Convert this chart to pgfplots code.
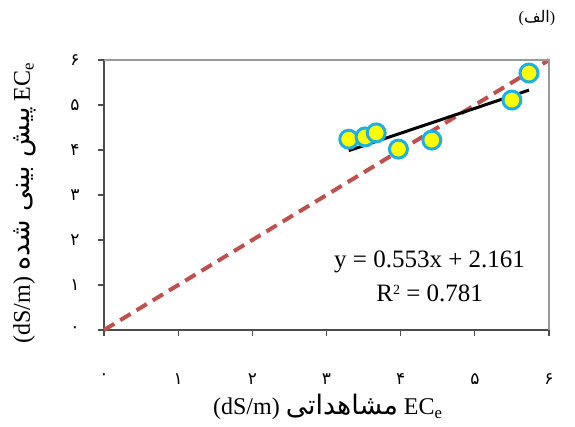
\documentclass[border=0pt]{standalone}
\usepackage{fontspec}
\setmainfont{Liberation Serif}
\newfontfamily\ar[Script=Arabic]{DejaVu Sans}
\newfontfamily\arl[Script=Arabic,Scale=1.12]{DejaVu Sans}
\usepackage{pgfplots}
\pgfplotsset{compat=1.18}
\usetikzlibrary{calc}
\TeXXeTstate=1

\definecolor{ptfill}{RGB}{255,255,0}
\definecolor{ptedge}{RGB}{30,175,230}
\definecolor{oneone}{RGB}{192,80,77}

\begin{document}
\begin{tikzpicture}
\begin{axis}[
    scale only axis,
    width=445pt,
    height=270pt,
    xmin=0, xmax=6,
    ymin=0, ymax=6,
    axis lines*=left,
    axis line style={-, black!70, line width=1.3pt},
    tick align=outside,
    major tick length=6pt,
    tick style={black!70, line width=1.1pt},
    xtick={0,1,2,3,4,5,6},
    ytick={0,1,2,3,4,5,6},
    xticklabels={{\ar ۰},{\ar ۱},{\ar ۲},{\ar ۳},{\ar ۴},{\ar ۵},{\ar ۶}},
    yticklabels={{\ar ۰},{\ar ۱},{\ar ۲},{\ar ۳},{\ar ۴},{\ar ۵},{\ar ۶}},
    ticklabel style={font=\fontsize{17}{20}\selectfont},
    xticklabel style={yshift=-34pt},
    yticklabel style={xshift=-15pt},
    xlabel={(dS/m) {\arl\beginR مشاهداتی\endR}\ EC\textsubscript{e}},
    ylabel={(dS/m) {\arl\beginR پیش بینی شده\endR}\ EC\textsubscript{e}},
    label style={font=\fontsize{24}{28}\selectfont},
    xlabel style={at={(axis description cs:0.503,-0.285)}, anchor=center},
    ylabel style={at={(axis description cs:-0.178,0.47)}, anchor=center, rotate=0},
    clip=false,
]
% observations
\addplot[only marks, mark=*, mark size=9pt,
    mark options={fill=ptfill, draw=ptedge, line width=3pt}] coordinates {
    (3.30,4.24) (3.52,4.29) (3.67,4.38) (3.97,4.02) (4.42,4.22) (5.50,5.11) (5.73,5.71)};
% 1:1 line
\addplot[oneone, line width=4pt, dash pattern=on 12pt off 7pt] coordinates {(0,0) (6,6)};
% fitted line
\addplot[black, line width=3pt] coordinates {(3.30,3.986) (5.73,5.330)};

\draw[black!40, line width=1.3pt] (rel axis cs:0,1) -- (rel axis cs:1,1) -- (rel axis cs:1,0);
\node[font=\fontsize{25}{28}\selectfont, align=center, inner sep=0pt] at (axis cs:4.39,1.2)
    {y = 0.553x + 2.161\\[6pt] R{\fontsize{14}{14}\selectfont\raisebox{7pt}{2}} = 0.781};
\node[font=\fontsize{16}{18}\selectfont] at (rel axis cs:0.973,1.156) {({\ar\beginR الف\endR})};
\end{axis}
\pgfresetboundingbox
\path ($(current axis.south west)+(-104pt,-96pt)$) rectangle ($(current axis.north east)+(26pt,60pt)$);
\end{tikzpicture}
\end{document}
